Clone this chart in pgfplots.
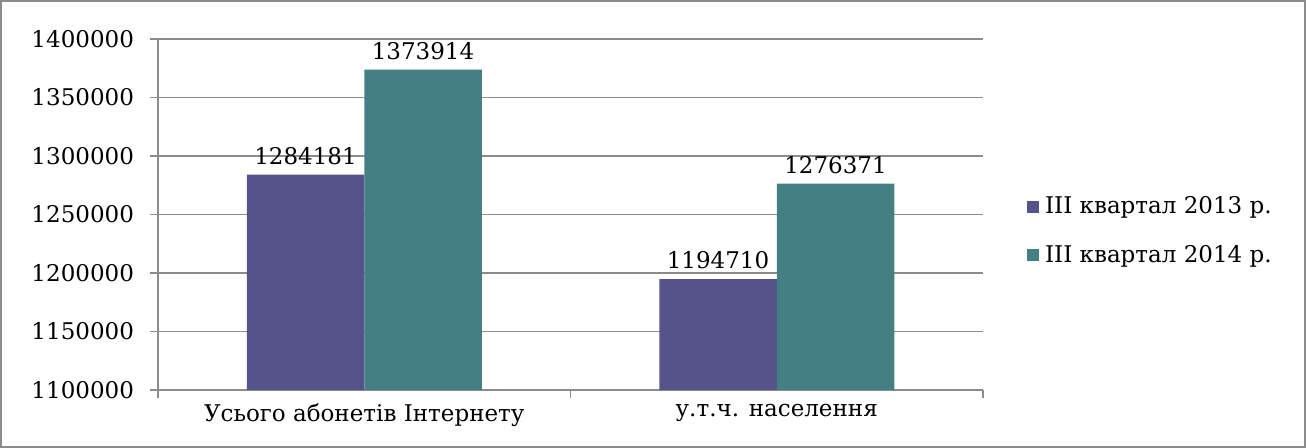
\documentclass[border=0pt]{standalone}
\usepackage{fontspec}
\setmainfont{DejaVu Serif}
\usepackage{pgfplots}
\pgfplotsset{compat=1.18}
\definecolor{cA}{HTML}{555389}
\definecolor{cB}{HTML}{437F83}
\definecolor{gridc}{HTML}{8C8C8C}
\begin{document}
\fontsize{11.5pt}{14pt}\selectfont
\begin{tikzpicture}
\useasboundingbox (0,0) rectangle (653pt,224pt);
\draw[gridc, line width=0.6pt] (0.5pt,0.5pt) rectangle (652.5pt,223.5pt);
\begin{axis}[
  at={(79pt,29pt)}, anchor=south west,
  scale only axis, width=412.5pt, height=175.5pt,
  xmin=-0.5, xmax=1.5, ymin=1100000, ymax=1400000,
  ytick={1100000,1150000,1200000,1250000,1300000,1350000,1400000},
  scaled y ticks=false,
  /pgf/number format/assume math mode=true,
  yticklabel style={xshift=-4pt, /pgf/number format/.cd, fixed, precision=0, 1000 sep={}},
  axis x line*=bottom, axis y line*=left,
  axis line style={gridc, line width=0.6pt, -},
  major tick style={gridc, line width=0.6pt},
  tick align=outside, major tick length=4pt,
  ymajorgrids, grid style={gridc, line width=0.6pt},
  xtick={-0.5,0.5,1.5}, xticklabels={},
  extra x ticks={0,1},
  extra x tick labels={Усього абонетів Інтернету, у.т.ч. населення},
  extra x tick style={major tick length=0pt, xticklabel style={yshift=-3pt}},
  ybar=0pt, bar width=58.75pt,
  nodes near coords,
  nodes near coords style={yshift=1pt, /pgf/number format/.cd, fixed, precision=0, 1000 sep={}},
  legend style={at={(1.053,0.453)}, anchor=west, draw=none, fill=none,
    row sep=10pt, inner sep=0pt, legend cell align=left,
    nodes={inner xsep=3pt}},
  legend image code/.code={\fill[#1] (0pt,-3pt) rectangle (6pt,3pt);},
]
\addplot[fill=cA, draw=none] coordinates {(0,1284181) (1,1194710)};
\addplot[fill=cB, draw=none] coordinates {(0,1373914) (1,1276371)};
\legend{III квартал 2013 р., III квартал 2014 р.}
\end{axis}
\end{tikzpicture}
\end{document}
